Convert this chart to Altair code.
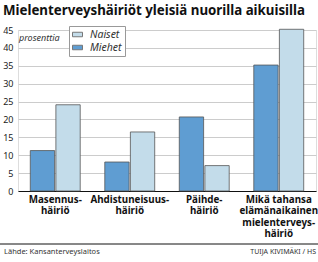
import altair as alt
import pandas as pd

categories = ["Masennus-\nhäiriö", "Ahdistuneisuus-\nhäiriö", "Päihde-\nhäiriö",
              "Mikä tahansa\nelämänaikainen\nmielenterveys-\nhäiriö"]
miehet = [11.3, 8.1, 20.7, 35.2]
naiset = [24.1, 16.5, 7.1, 45.2]
series = ["Naiset", "Miehet"]
colors = ["#c3dcea", "#5f9dd2"]
y_ticks = [0, 5, 10, 15, 20, 25, 30, 35, 40, 45]

rows = []
for c, m, n in zip(categories, miehet, naiset):
    rows.append({"cat": c, "sarja": "Miehet", "arvo": m})
    rows.append({"cat": c, "sarja": "Naiset", "arvo": n})
df = pd.DataFrame(rows)

FONT = "Noto Sans"
W, H = 298, 161

bars = alt.Chart(df).mark_bar(stroke="#555555", strokeWidth=0.8).encode(
    x=alt.X("cat:N", sort=categories, title=None,
            scale=alt.Scale(paddingInner=0.33, paddingOuter=0.165),
            axis=alt.Axis(labelExpr="split(datum.label, '\\n')", labelAngle=0,
                          labelFont=FONT, labelFontSize=9.8, labelFontWeight="bold",
                          labelColor="#111", labelLineHeight=11.5, labelPadding=3,
                          ticks=False, domainColor="#111", domainWidth=1.2)),
    xOffset=alt.XOffset("sarja:N", sort=["Miehet", "Naiset"],
                        scale=alt.Scale(paddingInner=0.05)),
    y=alt.Y("arvo:Q", title=None,
            scale=alt.Scale(domain=[0, 45], nice=False),
            axis=alt.Axis(values=y_ticks, labelFont=FONT, labelFontSize=9,
                          labelColor="#222", ticks=False, domain=False,
                          gridColor="#cccccc", gridWidth=1, labelPadding=5)),
    color=alt.Color("sarja:N", scale=alt.Scale(domain=series, range=colors),
                    legend=alt.Legend(title=None, orient="none", legendX=51, legendY=-4,
                                      symbolType="M-1,-0.45L1,-0.45L1,0.45L-1,0.45Z",
                                      symbolSize=100, symbolStrokeColor="#777",
                                      symbolStrokeWidth=1, labelFont=FONT,
                                      labelFontStyle="italic", labelFontSize=10.5,
                                      labelColor="#333", fillColor="white",
                                      strokeColor="#999", padding=3, rowPadding=2,
                                      labelOffset=7)),
)

pros = alt.Chart(pd.DataFrame({"t": ["prosenttia"]})).mark_text(
    align="left", baseline="middle", font=FONT, fontSize=9, fontStyle="italic",
    color="#333").encode(text="t:N", x=alt.value(1), y=alt.value(8))

title = alt.Chart(pd.DataFrame({"t": ["Mielenterveyshäiriöt yleisiä nuorilla aikuisilla"]})).mark_text(
    align="left", baseline="middle", font=FONT, fontSize=13.3, fontWeight="bold",
    color="#111").encode(text="t:N", x=alt.value(-15), y=alt.value(-19))

source = alt.Chart(pd.DataFrame({"t": ["Lähde: Kansanterveyslaitos"]})).mark_text(
    align="left", baseline="middle", font=FONT, fontSize=7.5, color="#333").encode(
    text="t:N", x=alt.value(-14), y=alt.value(222))

author = alt.Chart(pd.DataFrame({"t": ["TUIJA KIVIMÄKI / HS"]})).mark_text(
    align="right", baseline="middle", font=FONT, fontSize=7, color="#333").encode(
    text="t:N", x=alt.value(298), y=alt.value(222))

rule = alt.Chart(pd.DataFrame({"a": [0]})).mark_rule(color="#111", strokeWidth=1).encode(
    x=alt.value(-18), x2=alt.value(300), y=alt.value(214))

chart = alt.layer(bars, pros, title, source, author, rule).properties(
    width=W, height=H,
    autosize=alt.AutoSizeParams(type="none"),
    padding={"left": 18, "top": 30, "right": 2, "bottom": 71},
).configure_view(stroke=None).configure(background="white")

chart.save("out.html", embed_options={"renderer": "svg", "actions": False})
